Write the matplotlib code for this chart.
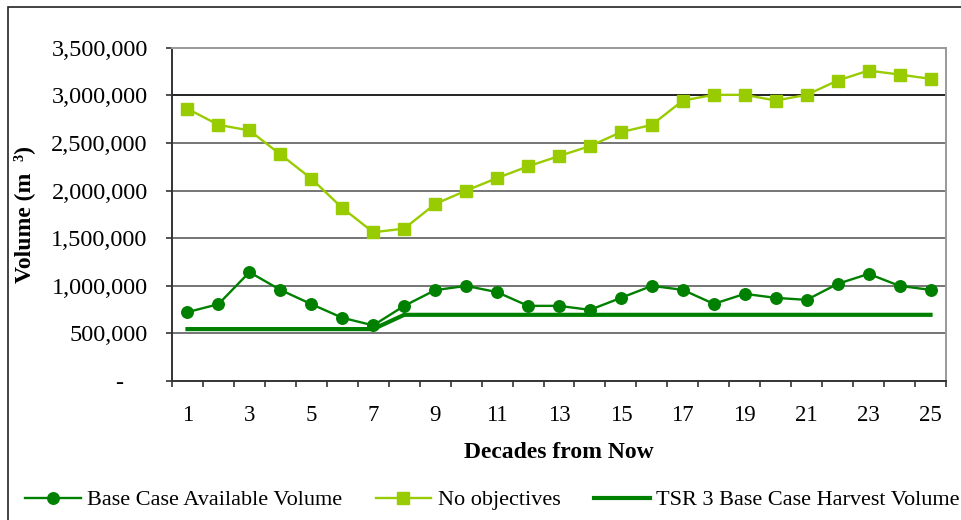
import matplotlib
matplotlib.use('Agg')
import matplotlib.pyplot as plt
from matplotlib.ticker import FixedLocator, FuncFormatter, NullFormatter
from matplotlib.patches import Rectangle
from matplotlib.transforms import ScaledTranslation

plt.rcParams['font.family'] = ['Liberation Serif', 'DejaVu Serif']

# Data
decades = list(range(1, 26))
base_case = [723000, 807000, 1143000, 957000, 807000, 664000, 584000, 789000, 954000, 999000,
             933000, 789000, 789000, 747000, 873000, 999000, 957000, 810000, 915000, 873000,
             852000, 1020000, 1125000, 999000, 957000]
no_objectives = [2858000, 2690000, 2631000, 2380000, 2125000, 1817000, 1562000, 1600000, 1859000, 1999000,
                 2131000, 2254000, 2362000, 2467000, 2613000, 2690000, 2945000, 3005000, 3005000, 2945000,
                 3005000, 3155000, 3260000, 3218000, 3173000]
tsr_harvest = [545000] * 7 + [695000] * 18
y_ticks = [0, 500000, 1000000, 1500000, 2000000, 2500000, 3000000, 3500000]
x_labels = list(range(1, 26, 2))

dark_green = '#008000'
light_green = '#99CC00'

fig = plt.figure(figsize=(9.61, 5.2), dpi=100)
ax = fig.add_axes([172 / 961, 1 - 381 / 520, (946 - 172) / 961, (381 - 47.7) / 520])

ax.plot(decades, base_case, color=dark_green, lw=1.7, marker='o', ms=8.3,
        label='Base Case Available Volume', zorder=4)
ax.plot(decades, no_objectives, color=light_green, lw=1.7, marker='s', ms=9,
        label='No objectives', zorder=4)
ax.plot(decades, tsr_harvest, color=dark_green, lw=3,
        label='TSR 3 Base Case Harvest Volume', zorder=3)

ax.set_xlim(0.5, 25.5)
ax.set_ylim(0, 3500000)

ax.yaxis.set_major_locator(FixedLocator(y_ticks))
ax.yaxis.set_major_formatter(FuncFormatter(lambda v, p: '-' if v == 0 else f'{int(v):,}'))
ax.xaxis.set_major_locator(FixedLocator(x_labels))
ax.xaxis.set_minor_locator(FixedLocator([d - 0.5 for d in decades] + [25.5]))
ax.xaxis.set_minor_formatter(NullFormatter())

ax.tick_params(axis='x', which='major', length=0, pad=17, labelsize=16.5)
ax.tick_params(axis='x', which='minor', length=4, width=1.2, color='#333333', direction='out')
ax.tick_params(axis='y', length=4.5, width=1.2, color='#333333', pad=13, labelsize=17.5)

for v in y_ticks[1:-1]:
    ax.axhline(v, color='#505050', lw=1.1, zorder=1)
ax.axhline(3000000, color='#111111', lw=1.1, zorder=1)

ax.spines['left'].set_color('#333333')
ax.spines['left'].set_linewidth(1.4)
ax.spines['bottom'].set_color('#333333')
ax.spines['bottom'].set_linewidth(1.4)
ax.spines['top'].set_color('#999999')
ax.spines['top'].set_linewidth(1.4)
ax.spines['right'].set_color('#999999')
ax.spines['right'].set_linewidth(1.4)

# shift the "-" zero label left like the accounting format
zero_lbl = ax.yaxis.get_major_ticks()[0].label1
zero_lbl.set_transform(zero_lbl.get_transform() + ScaledTranslation(-0.25, 0, fig.dpi_scale_trans))

ax.set_ylabel('Volume (m  ³)', fontsize=17, fontweight='bold')
ax.yaxis.set_label_coords(-(172 - 35) / 774, 0.5)
ax.set_xlabel('Decades from Now', fontsize=17, fontweight='bold', labelpad=12)

fig.legend(loc='center left', bbox_to_anchor=(25 / 961, 1 - 500 / 520), ncol=3, frameon=False,
           fontsize=16, handlelength=2.5, handletextpad=0.3, columnspacing=1.5,
           borderpad=0, borderaxespad=0)

fig.add_artist(Rectangle((8 / 961, -0.1), 1.2, 1.1 - 7 / 520, transform=fig.transFigure,
                         fill=False, edgecolor='#222222', lw=1.2, clip_on=False))

fig.savefig('out.png', dpi=100)
